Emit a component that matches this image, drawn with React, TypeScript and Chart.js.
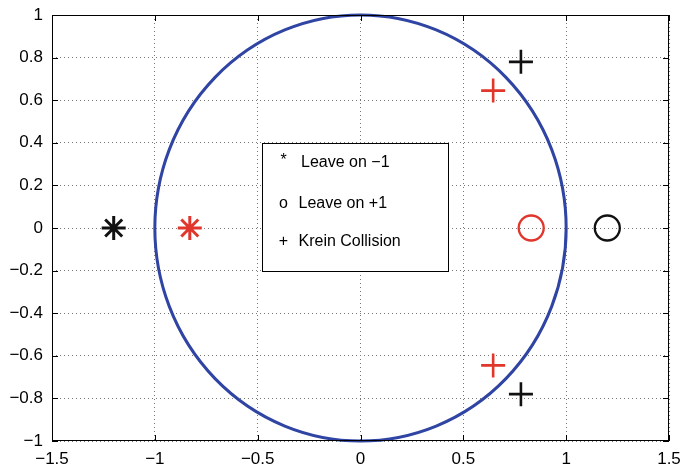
import React, { useEffect, useRef } from 'react';
import { Chart, registerables } from 'chart.js';

Chart.register(...registerables);

// ---- data ----
const X_TICKS = [-1.5, -1, -0.5, 0, 0.5, 1, 1.5];
const Y_TICKS = [-1, -0.8, -0.6, -0.4, -0.2, 0, 0.2, 0.4, 0.6, 0.8, 1];
const UNIT_CIRCLE_RADIUS = 1;

const leaveMinus1Black = [{ x: -1.2, y: 0 }];
const leaveMinus1Red = [{ x: -0.83, y: 0 }];
const leavePlus1Red = [{ x: 0.83, y: 0 }];
const leavePlus1Black = [{ x: 1.2, y: 0 }];
const kreinBlack = [{ x: 0.78, y: 0.78 }, { x: 0.78, y: -0.78 }];
const kreinRed = [{ x: 0.645, y: 0.645 }, { x: 0.645, y: -0.645 }];

const LEGEND_SYMBOLS = ['*', 'o', '+'];
const LEGEND_LABELS = ['Leave on \u22121', 'Leave on +1', 'Krein Collision'];
// legend box in data coords
const LEGEND_BOX = { x0: -0.48, x1: 0.427, y0: 0.4, y1: -0.2 };

const RED = '#e0362b';
const BLACK = '#111111';
const BLUE = '#2f44a3';
const FONT = '"Liberation Sans", Arial, Helvetica, sans-serif';

const fmt = (v: number) => {
  const r = Math.round(v * 10) / 10;
  const s = String(Math.abs(r));
  return r < 0 ? '\u2212' + s : s;
};

const framePlugin = {
  id: 'matlabFrame',
  beforeDatasetsDraw(chart: any) {
    const { ctx, scales } = chart;
    const xs = scales.x, ys = scales.y;
    const cx = xs.getPixelForValue(0), cy = ys.getPixelForValue(0);
    const rx = Math.abs(xs.getPixelForValue(UNIT_CIRCLE_RADIUS) - cx);
    const ry = Math.abs(ys.getPixelForValue(UNIT_CIRCLE_RADIUS) - cy);
    ctx.save();
    ctx.strokeStyle = BLUE;
    ctx.lineWidth = 3;
    ctx.beginPath();
    ctx.ellipse(cx, cy, rx, ry, 0, 0, Math.PI * 2);
    ctx.stroke();
    ctx.restore();
  },
  afterDraw(chart: any) {
    const { ctx, chartArea: a, scales } = chart;
    const xs = scales.x, ys = scales.y;
    ctx.save();
    ctx.strokeStyle = '#000';
    ctx.lineWidth = 1;
    ctx.strokeRect(a.left + 0.5, a.top + 0.5, a.right - a.left - 1, a.bottom - a.top - 1);
    const tl = 6;
    ctx.beginPath();
    X_TICKS.forEach((v) => {
      const px = Math.round(xs.getPixelForValue(v)) + 0.5;
      ctx.moveTo(px, a.bottom); ctx.lineTo(px, a.bottom - tl);
      ctx.moveTo(px, a.top); ctx.lineTo(px, a.top + tl);
    });
    Y_TICKS.forEach((v) => {
      const py = Math.round(ys.getPixelForValue(v)) + 0.5;
      ctx.moveTo(a.left, py); ctx.lineTo(a.left + tl, py);
      ctx.moveTo(a.right, py); ctx.lineTo(a.right - tl, py);
    });
    ctx.stroke();

    // legend box
    const bx0 = Math.round(xs.getPixelForValue(LEGEND_BOX.x0)) + 0.5;
    const bx1 = Math.round(xs.getPixelForValue(LEGEND_BOX.x1)) + 0.5;
    const by0 = Math.round(ys.getPixelForValue(LEGEND_BOX.y0)) + 0.5;
    const by1 = Math.round(ys.getPixelForValue(LEGEND_BOX.y1)) + 0.5;
    ctx.fillStyle = '#fff';
    ctx.fillRect(bx0, by0, bx1 - bx0, by1 - by0);
    ctx.strokeStyle = '#000';
    ctx.strokeRect(bx0, by0, bx1 - bx0, by1 - by0);
    ctx.fillStyle = '#000';
    ctx.font = `16px ${FONT}`;
    ctx.textBaseline = 'middle';
    const h = by1 - by0;
    const rows = [0.146, 0.466, 0.77];
    LEGEND_LABELS.forEach((lab, i) => {
      const y = by0 + h * rows[i];
      ctx.textAlign = 'center';
      ctx.fillText(LEGEND_SYMBOLS[i], bx0 + 21, y + (i === 0 ? -2 : 0));
      ctx.textAlign = 'left';
      ctx.fillText(lab, bx0 + (i === 0 ? 38.5 : 36), y);
    });
    ctx.restore();
  },
};

const pt = (data: any[], color: string, style: string, r: number, w: number) => ({
  type: 'scatter' as const,
  data,
  pointStyle: style,
  pointRadius: r,
  pointHoverRadius: r,
  borderColor: color,
  backgroundColor: 'rgba(0,0,0,0)',
  borderWidth: w,
  pointBorderWidth: w,
});

export default function App() {
  const ref = useRef<HTMLCanvasElement | null>(null);
  useEffect(() => {
    document.body.style.margin = '0';
    const chart = new Chart(ref.current as HTMLCanvasElement, {
      type: 'scatter',
      data: {
        datasets: [
          pt(leaveMinus1Black, BLACK, 'star', 12, 3),
          pt(leaveMinus1Red, RED, 'star', 12, 3),
          pt(leavePlus1Red, RED, 'circle', 12.5, 2.3),
          pt(leavePlus1Black, BLACK, 'circle', 12.5, 2.3),
          pt(kreinBlack, BLACK, 'cross', 12, 2.6),
          pt(kreinRed, RED, 'cross', 12, 2.6),
        ] as any,
      },
      options: {
        animation: false,
        responsive: false,
        layout: { padding: { left: 0, top: 14, right: 16, bottom: 0 } },
        plugins: { legend: { display: false }, tooltip: { enabled: false } },
        scales: {
          x: {
            type: 'linear',
            min: -1.5,
            max: 1.5,
            afterBuildTicks: (s: any) => { s.ticks = X_TICKS.map((v) => ({ value: v })); },
            afterFit: (s: any) => { s.height = 29; s.paddingLeft = 0; s.paddingRight = 0; },
            border: { display: false, dash: [1, 3] },
            grid: { color: '#777', drawTicks: false, lineWidth: 1 } as any,
            ticks: { color: '#000', padding: 8, maxRotation: 0, autoSkip: false, font: { family: FONT, size: 17 }, callback: (v: any) => fmt(Number(v)) },
          },
          y: {
            type: 'linear',
            min: -1,
            max: 1,
            afterBuildTicks: (s: any) => { s.ticks = Y_TICKS.map((v) => ({ value: v })); },
            afterFit: (s: any) => { s.width = 52; s.paddingTop = 0; s.paddingBottom = 0; },
            border: { display: false, dash: [1, 3] },
            grid: { color: '#777', drawTicks: false, lineWidth: 1 } as any,
            ticks: { color: '#000', padding: 9, autoSkip: false, font: { family: FONT, size: 17 }, callback: (v: any) => fmt(Number(v)) },
          },
        },
      },
      plugins: [framePlugin],
    });
    return () => chart.destroy();
  }, []);
  return (
    <div style={{ position: 'fixed', left: 0, top: 0, width: 685, height: 470 }}>
      <canvas ref={ref} width={685} height={470} style={{ width: 685, height: 470 }} />
    </div>
  );
}
